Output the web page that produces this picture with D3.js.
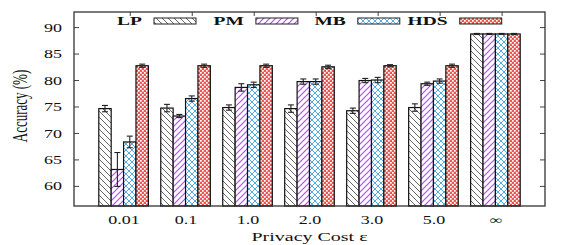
<!DOCTYPE html>
<html>
<head>
<meta charset="utf-8">
<script src="https://cdn.jsdelivr.net/npm/d3@7"></script>
<style>
  html, body { margin: 0; padding: 0; background: #fff; }
  text { font-family: "Liberation Serif", "Times New Roman", serif; fill: #111; }
</style>
</head>
<body>
<script>
var width = 581,
    height = 245;

var margin = { left: 74, right: 36, top: 12, bottom: 39 };

// privacy cost groups and methods
var categories = ['0.01', '0.1', '1.0', '2.0', '3.0', '5.0', '\u221e'];
var series = ['LP', 'PM', 'MB', 'HDS'];

// accuracy (%) per group, one array per method
var lpValues  = [74.6, 74.7, 74.8, 74.6, 74.2, 74.8, 88.7];
var pmValues  = [63.1, 73.2, 78.6, 79.7, 79.9, 79.3, 88.7];
var mbValues  = [68.3, 76.5, 79.1, 79.7, 80.0, 79.8, 88.7];
var hdsValues = [82.7, 82.7, 82.7, 82.5, 82.7, 82.7, 88.7];

// error bar half-widths
var lpErr  = [0.6, 0.7, 0.5, 0.7, 0.5, 0.7, 0.1];
var pmErr  = [3.2, 0.3, 0.7, 0.5, 0.4, 0.3, 0.1];
var mbErr  = [1.1, 0.5, 0.5, 0.5, 0.5, 0.4, 0.1];
var hdsErr = [0.3, 0.3, 0.3, 0.3, 0.2, 0.3, 0.1];

var yTicks = [60, 65, 70, 75, 80, 85, 90];

var values = [lpValues, pmValues, mbValues, hdsValues];
var errors = [lpErr, pmErr, mbErr, hdsErr];
var patterns = ['patLP', 'patPM', 'patMB', 'patHDS'];

var squash = 0.65; // the original image is squeezed vertically

var x0 = margin.left, x1 = width - margin.right,
    y0 = height - margin.bottom, y1 = margin.top;

var x = d3.scalePoint().domain(categories).range([x0, x1]).padding(0.8);
var step = x.step();
var xs = d3.scaleBand().domain(series)
    .range([-0.4 * step, 0.4 * step]);
var y = d3.scaleLinear().domain([56.2, 92.85]).range([y0, y1]);

var svg = d3.select('body').append('svg')
    .attr('xmlns', 'http://www.w3.org/2000/svg')
    .attr('width', width)
    .attr('height', height);

// fill patterns
var defs = svg.append('defs');

function hatch(id, col, d, sw) {
  var p = defs.append('pattern').attr('id', id)
      .attr('patternUnits', 'userSpaceOnUse')
      .attr('width', 6).attr('height', 6);
  p.append('rect').attr('width', 6).attr('height', 6).attr('fill', '#fff');
  p.append('path').attr('d', d)
      .style('stroke', col).style('stroke-width', sw).style('fill', 'none');
}
hatch('patLP', '#555555', 'M0,0L6,6M-1,5L1,7M5,-1L7,1', 0.9);
hatch('patPM', '#b44cff', 'M0,6L6,0M-1,1L1,-1M5,7L7,5', 1.2);
hatch('patMB', '#3ea3dc', 'M0,0L6,6M-1,5L1,7M5,-1L7,1M0,6L6,0M-1,1L1,-1M5,7L7,5', 0.9);

var pr = defs.append('pattern').attr('id', 'patHDS')
    .attr('patternUnits', 'userSpaceOnUse')
    .attr('width', 4).attr('height', 4);
pr.append('rect').attr('width', 4).attr('height', 4).attr('fill', '#f0564d');
pr.append('rect').attr('width', 1.7).attr('height', 1.7).attr('fill', '#fff');
pr.append('rect').attr('x', 2).attr('y', 2).attr('width', 1.7).attr('height', 1.7).attr('fill', '#fff');

function squashText(sel, dx, dy, anchor) {
  sel.each(function() {
    var t = d3.select(this);
    t.attr('x', null).attr('y', null).attr('dy', '0.35em')
     .attr('text-anchor', anchor)
     .attr('transform', 'translate(' + dx + ',' + dy + ') scale(1,' + squash + ')');
  });
}

// bars
var bw = xs.bandwidth();
series.forEach(function(s, si) {
  var g = svg.append('g').attr('class', 'series');
  g.selectAll('rect').data(values[si]).enter().append('rect')
    .attr('x', function(d, i) { return x(categories[i]) + xs(s); })
    .attr('y', function(d) { return y(d); })
    .attr('width', bw)
    .attr('height', function(d) { return y0 - y(d); })
    .attr('fill', 'url(#' + patterns[si] + ')')
    .attr('stroke', '#111')
    .attr('stroke-width', 1.2);

  var eb = g.selectAll('g.err').data(values[si]).enter().append('g')
    .attr('class', 'err')
    .attr('stroke', '#222').attr('stroke-width', 1.1);
  eb.each(function(d, i) {
    var cx = x(categories[i]) + xs(s) + bw / 2,
        e = errors[si][i],
        ya = y(d + e), yb = y(d - e);
    var sel = d3.select(this);
    sel.append('line').attr('x1', cx).attr('x2', cx).attr('y1', ya).attr('y2', yb);
    sel.append('line').attr('x1', cx - 3).attr('x2', cx + 3).attr('y1', ya).attr('y2', ya);
    sel.append('line').attr('x1', cx - 3).attr('x2', cx + 3).attr('y1', yb).attr('y2', yb);
  });
});

// axes
var yAxis = svg.append('g').attr('transform', 'translate(' + x0 + ',0)')
    .call(d3.axisLeft(y).tickValues(yTicks).tickSizeInner(-5).tickSizeOuter(0));
yAxis.select('.domain').remove();
yAxis.selectAll('.tick line').attr('stroke', '#444');
yAxis.selectAll('.tick text').style('font-size', '18px')
    .call(squashText, -12, 0, 'end');

var yAxisR = svg.append('g').attr('transform', 'translate(' + x1 + ',0)')
    .call(d3.axisRight(y).tickValues(yTicks).tickSizeInner(-5).tickSizeOuter(0).tickFormat(''));
yAxisR.select('.domain').remove();
yAxisR.selectAll('.tick line').attr('stroke', '#444');

var xTop = svg.append('g').attr('transform', 'translate(' + (0.1 * step) + ',' + y1 + ')')
    .call(d3.axisTop(x).tickSizeInner(-4).tickSizeOuter(0).tickFormat(''));
xTop.select('.domain').remove();
xTop.selectAll('.tick line').attr('stroke', '#444');

var xAxis = svg.append('g').attr('transform', 'translate(0,' + y0 + ')')
    .call(d3.axisBottom(x).tickSize(0));
xAxis.select('.domain').remove();
xAxis.selectAll('.tick text').style('font-size', '18px')
    .call(squashText, 0, 13.7, 'middle');

// frame
svg.append('rect')
  .attr('x', x0).attr('y', y1)
  .attr('width', x1 - x0).attr('height', y0 - y1)
  .attr('fill', 'none').attr('stroke', '#333').attr('stroke-width', 1.3);

// axis titles
svg.append('text').text('Privacy Cost \u03b5')
  .style('font-size', '20px')
  .call(squashText, (x0 + x1) / 2, 236.5, 'middle');

svg.append('text').text('Accuracy (%)')
  .style('font-size', '20px')
  .attr('text-anchor', 'middle')
  .attr('dy', '0.35em')
  .attr('transform', 'translate(20,106) scale(1,' + squash + ') rotate(-90)');

// legend
var legend = svg.append('g').attr('class', 'legend');
series.forEach(function(s, si) {
  var lx = 154 + si * 101.9, ly = 21;
  legend.append('text').text(s)
    .style('font-size', '19.5px')
    .style('font-weight', 'bold')
    .call(squashText, lx - 12, ly, 'end');
  legend.append('rect')
    .attr('x', lx).attr('y', ly - 3)
    .attr('width', 42).attr('height', 6)
    .attr('fill', 'url(#' + patterns[si] + ')')
    .attr('stroke', '#222').attr('stroke-width', 1);
});
</script>
</body>
</html>
